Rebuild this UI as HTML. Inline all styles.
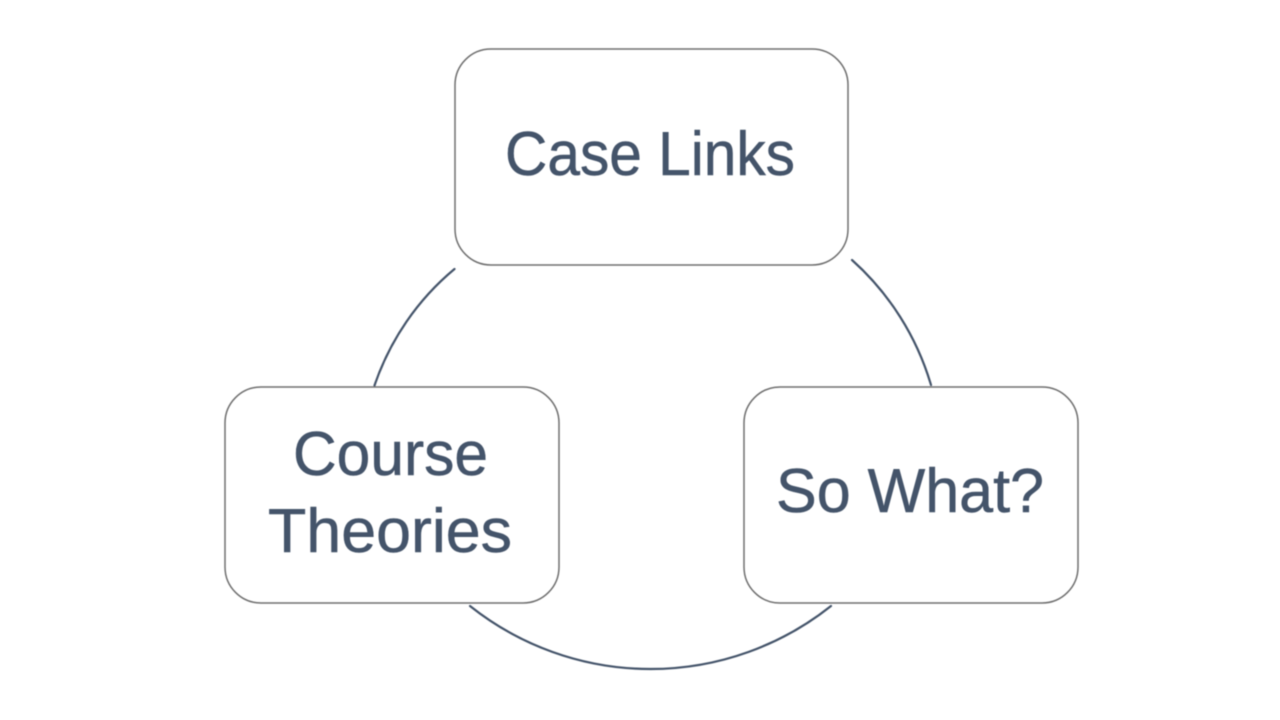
<!DOCTYPE html>
<html>
<head>
<meta charset="utf-8">
<style>
html,body{margin:0;padding:0;background:#fff;width:1280px;height:720px;overflow:hidden}
svg{display:block;filter:blur(0.4px)}
text{font-family:"Liberation Sans",sans-serif;font-size:62px;fill:#44546a;stroke:#44546a;stroke-width:0.5px}
</style>
</head>
<body>
<svg width="1280" height="720" viewBox="0 0 1280 720" xmlns="http://www.w3.org/2000/svg">
<rect width="1280" height="720" fill="#fff"/>
<g fill="none" stroke="#44546a" stroke-width="2.200" stroke-linecap="round">
<path d="M454.500 269 A260 260 0 0 0 374.500 385.500"/>
<path d="M852 260 A270 270 0 0 1 931 385"/>
<path d="M470 606 A290 290 0 0 0 831 606"/>
</g>
<g fill="#fff" stroke="#6f6f6f" stroke-width="1.500">
<rect x="455" y="49" width="393" height="216" rx="36" ry="36"/>
<rect x="225" y="387" width="334" height="216" rx="36" ry="36"/>
<rect x="744" y="387" width="334" height="216" rx="36" ry="36"/>
</g>
<text x="505" y="175" textLength="290" lengthAdjust="spacingAndGlyphs">Case Links</text>
<text x="293" y="475" textLength="195" lengthAdjust="spacingAndGlyphs">Course</text>
<text x="268" y="552" textLength="244" lengthAdjust="spacingAndGlyphs">Theories</text>
<text x="776" y="512" textLength="268" lengthAdjust="spacingAndGlyphs">So What?</text>
</svg>
</body>
</html>
